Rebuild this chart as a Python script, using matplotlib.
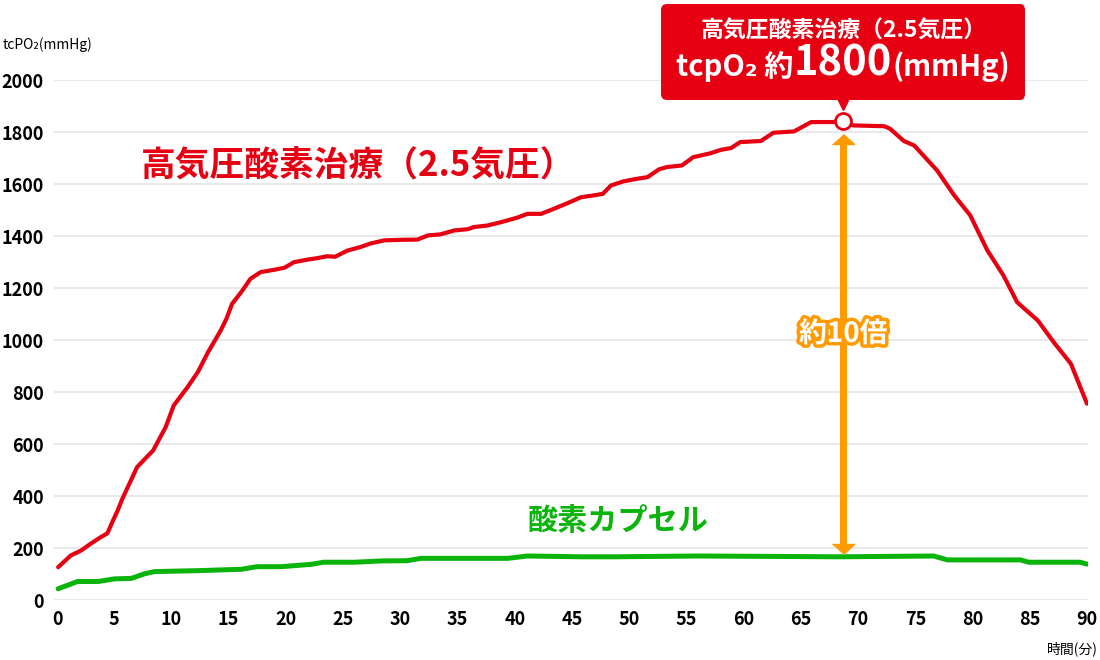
import matplotlib
matplotlib.use("Agg")
import matplotlib.pyplot as plt
import matplotlib.patheffects as pe
from matplotlib.offsetbox import TextArea, HPacker, VPacker, AnnotationBbox
from matplotlib.transforms import offset_copy
import numpy as np

plt.rcParams['font.family'] = ['Noto Sans CJK JP', 'DejaVu Sans']

# data (minutes, mmHg)
hbo_t = [0.1, 1.2, 2.1, 3.0, 3.8, 4.4, 4.9, 5.3, 5.7, 7.0, 8.4, 9.5, 10.2, 11.4, 12.3,
         13.2, 14.3, 14.8, 15.3, 16.1, 16.9, 17.8, 19.0, 19.9, 20.7, 21.9, 22.8, 23.6,
         24.3, 25.4, 26.5, 27.4, 28.6, 30.0, 31.5, 32.4, 33.5, 34.7, 35.9, 36.4, 37.6,
         38.8, 40.2, 41.1, 42.3, 43.4, 44.6, 45.8, 46.9, 47.7, 48.4, 49.5, 50.7, 51.6,
         52.6, 53.3, 54.6, 55.6, 57.1, 58.0, 58.9, 59.7, 61.5, 62.6, 64.4, 65.9, 67.9,
         68.7, 69.6, 72.3, 72.8, 74.0, 74.9, 76.9, 78.4, 79.8, 81.3, 82.7, 83.9, 85.7,
         87.1, 88.6, 90.0]
hbo_v = [128, 173, 192, 220, 243, 258, 308, 346, 390, 513, 577, 667, 750, 820, 878,
         955, 1038, 1083, 1141, 1186, 1237, 1263, 1272, 1280, 1301, 1311, 1317, 1324,
         1322, 1346, 1359, 1373, 1385, 1387, 1388, 1404, 1408, 1423, 1428, 1436, 1442,
         1455, 1472, 1487, 1487, 1506, 1528, 1551, 1558, 1564, 1596, 1612, 1622, 1628,
         1658, 1667, 1673, 1705, 1720, 1733, 1740, 1763, 1767, 1799, 1804, 1840, 1840,
         1845, 1827, 1824, 1814, 1767, 1750, 1654, 1558, 1481, 1346, 1250, 1147, 1077,
         993, 910, 757]

cap_t = [0.1, 1.8, 3.6, 5.0, 6.5, 7.6, 8.5, 12.6, 16.1, 17.5, 19.6, 22.2, 23.3, 26.0,
         28.3, 30.6, 31.8, 39.4, 41.1, 45.8, 48.7, 56.0, 68.5, 76.6, 77.8, 84.2, 84.9,
         89.4, 90.0]
cap_v = [45, 73, 73, 83, 85, 102, 111, 115, 120, 130, 130, 139, 147, 147,
         152, 153, 162, 162, 171, 168, 168, 171, 168, 171, 156, 156, 147,
         147, 140]

x_ticks = list(range(0, 91, 5))
y_ticks = list(range(0, 2001, 200))

red = '#e60012'
green = '#0ab40a'
orange = '#ff9a00'

fig = plt.figure(figsize=(11, 6.6), dpi=100)
ax = fig.add_axes([0.0487, 0.0902, 0.9405, 0.7879])

ax.plot(hbo_t, hbo_v, color=red, lw=3, solid_capstyle='round',
        solid_joinstyle='round', zorder=3)
ax.plot(cap_t, cap_v, color=green, lw=3.6, solid_capstyle='round',
        solid_joinstyle='round', zorder=3)

ax.set_xlim(-0.3, 90.1)
ax.set_ylim(0, 2000)
ax.set_xticks(x_ticks)
ax.set_yticks(y_ticks)
ax.tick_params(length=0, labelsize=13, pad=7)
for lab in ax.get_xticklabels() + ax.get_yticklabels():
    lab.set_fontweight('bold')
ax.grid(axis='y', color='#e3e3e3', lw=1.1)
ax.set_axisbelow(True)
for s in ax.spines.values():
    s.set_visible(False)

# peak marker
i = int(np.argmax(hbo_v))
pk_t, pk_v = hbo_t[i], hbo_v[i]
ax.plot(pk_t, pk_v, 'o', ms=11.5, mfc='white', mec=red, mew=2, clip_on=False, zorder=6)

# double arrow between the two curves
top = pk_v - 55
bot = np.interp(pk_t, cap_t, cap_v) + 14
ax.plot([pk_t, pk_t], [bot + 20, top - 20], color=orange, lw=5, solid_capstyle='butt', zorder=4)
head_up = [(-1, -0.45), (1, -0.45), (0, 0.45)]
head_dn = [(-1, 0.45), (1, 0.45), (0, -0.45)]
ax.plot(pk_t, top - 16, marker=head_up, ms=16, color=orange, zorder=4, lw=0)
ax.plot(pk_t, bot + 16, marker=head_dn, ms=16, color=orange, zorder=4, lw=0)
ax.text(pk_t, 1025, '約10倍', color='white', fontsize=20, fontweight='bold',
        ha='center', va='center', zorder=5,
        path_effects=[pe.withStroke(linewidth=5, foreground=orange)])

# series labels
ax.text(7.3, 1670, '高気圧酸素治療（2.5気圧）', color=red, fontsize=25,
        fontweight='bold', va='center', ha='left')
ax.text(41.1, 305, '酸素カプセル', color=green, fontsize=21.7,
        fontweight='bold', va='center', ha='left')

# callout box
line1 = TextArea('高気圧酸素治療（2.5気圧）',
                 textprops=dict(color='white', fontsize=16.5, fontweight='bold'))
line2 = HPacker(children=[
    TextArea('tcpO₂ 約', textprops=dict(color='white', fontsize=21, fontweight='bold')),
    TextArea('1800', textprops=dict(color='white', fontsize=30, fontweight='bold')),
    TextArea('(mmHg)', textprops=dict(color='white', fontsize=21, fontweight='bold')),
], align='baseline', pad=0, sep=0)
content = VPacker(children=[line1, line2], align='center', pad=0, sep=0)
ab = AnnotationBbox(content, (pk_t, pk_v), xybox=(0, 26), xycoords='data',
                    boxcoords='offset points', box_alignment=(0.5, 0),
                    annotation_clip=False,
                    bboxprops=dict(boxstyle='round,pad=1.1,rounding_size=0.4',
                                   fc=red, ec='none'))
ab.set_zorder(7)
ax.add_artist(ab)
ax.plot(pk_t, pk_v, marker='v', ms=10, color=red, clip_on=False, zorder=7,
        transform=offset_copy(ax.transData, fig=fig, y=13, units='points'))

fig.text(3 / 1100, 1 - 45 / 660, 'tcPO₂(mmHg)', fontsize=10, ha='left', va='center')
fig.text(1098 / 1100, 1 - 649 / 660, '時間(分)', fontsize=10, ha='right', va='center')

fig.savefig('out.png', dpi=100)
